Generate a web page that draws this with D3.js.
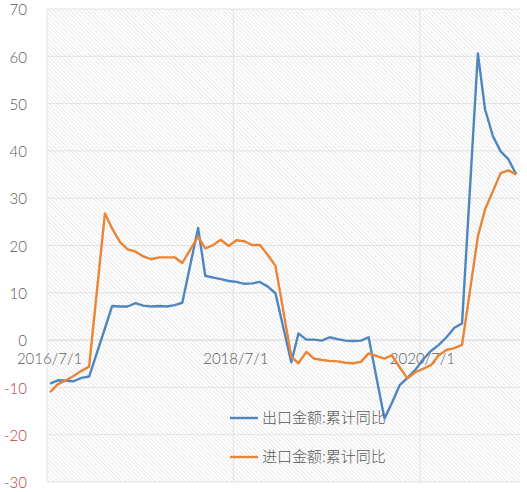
<!DOCTYPE html>
<html lang="zh">
<head>
<meta charset="UTF-8">
<title>出口金额与进口金额累计同比</title>
<script src="https://cdn.jsdelivr.net/npm/d3@7.9.0/dist/d3.min.js"></script>
<style>
  html, body { margin: 0; padding: 0; background: #fff; }
  svg { display: block; font-family: "Noto Sans CJK SC", "Noto Sans", sans-serif; }
  .num { font-family: Lato, "Noto Sans", sans-serif; font-weight: 300; }
</style>
</head>
<body>
<svg id="chart" width="527" height="492"></svg>
<script>
// monthly cumulative YoY (%), January folded into Jan-Feb
const months = [
  "2016-07","2016-08","2016-09","2016-10","2016-11","2016-12",
  "2017-02","2017-03","2017-04","2017-05","2017-06","2017-07","2017-08","2017-09","2017-10","2017-11","2017-12",
  "2018-02","2018-03","2018-04","2018-05","2018-06","2018-07","2018-08","2018-09","2018-10","2018-11","2018-12",
  "2019-02","2019-03","2019-04","2019-05","2019-06","2019-07","2019-08","2019-09","2019-10","2019-11","2019-12",
  "2020-02","2020-03","2020-04","2020-05","2020-06","2020-07","2020-08","2020-09","2020-10","2020-11","2020-12",
  "2021-02","2021-03","2021-04","2021-05","2021-06","2021-07"
];
const exportYoY = [
  -9.2, -8.5, -8.6, -8.7, -8.0, -7.7,
  2.5, 7.2, 7.1, 7.1, 7.8, 7.3, 7.1, 7.2, 7.1, 7.4, 7.9,
  23.7, 13.6, 13.2, 12.9, 12.5, 12.3, 11.9, 12.0, 12.3, 11.3, 9.9,
  -4.7, 1.4, 0.1, 0.1, -0.1, 0.6, 0.2, -0.1, -0.2, -0.1, 0.6,
  -16.6, -13.3, -9.5, -8.0, -6.3, -4.1, -2.3, -1.0, 0.6, 2.6, 3.5,
  60.6, 48.8, 43.1, 39.9, 38.2, 35.0
];
const importYoY = [
  -11.0, -9.3, -8.5, -7.6, -6.5, -5.6,
  26.8, 23.6, 20.7, 19.2, 18.7, 17.7, 17.1, 17.5, 17.5, 17.5, 16.3,
  21.9, 19.4, 20.1, 21.2, 19.9, 21.1, 20.9, 20.1, 20.1, 18.0, 15.7,
  -3.5, -4.9, -2.5, -3.9, -4.2, -4.4, -4.5, -4.8, -4.9, -4.6, -2.8,
  -3.9, -3.2, -5.8, -8.1, -6.8, -6.1, -5.3, -3.2, -2.1, -1.7, -1.0,
  21.9, 27.6, 31.5, 35.3, 35.9, 35.0
];
const yTicks = [-30, -20, -10, 0, 10, 20, 30, 40, 50, 60, 70];
const xTickLabels = ["2016/7/1", "2018/7/1", "2020/7/1"];
const seriesNames = ["出口金额:累计同比", "进口金额:累计同比"];

const svg = d3.select("#chart");
const plot = { left: 47, right: 520, top: 9, bottom: 482 };

const parseMonth = d3.timeParse("%Y-%m-%d");
const parseTick = d3.timeParse("%Y/%m/%d");
const dates = months.map(m => parseMonth(m + "-13"));

const x = d3.scaleTime()
  .domain([parseTick("2016/7/1"), parseTick("2021/7/28")])
  .range([plot.left, plot.right]);
const y = d3.scaleLinear().domain([-30, 70]).range([plot.bottom, plot.top]);

// hatched plot background (fine "\" stripes)
const defs = svg.append("defs");
const pat = defs.append("pattern")
  .attr("id", "hatch")
  .attr("patternUnits", "userSpaceOnUse")
  .attr("width", 3).attr("height", 3)
  .attr("patternTransform", "rotate(-45)");
pat.append("line")
  .attr("x1", 0).attr("y1", 0).attr("x2", 0).attr("y2", 3)
  .attr("stroke", "#dedede").attr("stroke-width", 1.3);

svg.append("rect")
  .attr("x", plot.left).attr("y", plot.top)
  .attr("width", plot.right - plot.left).attr("height", plot.bottom - plot.top)
  .attr("fill", "url(#hatch)");

// horizontal grid
svg.append("g")
  .selectAll("line")
  .data(yTicks)
  .join("line")
  .attr("x1", plot.left).attr("x2", plot.right)
  .attr("y1", d => y(d)).attr("y2", d => y(d))
  .attr("stroke", d => d === 0 ? "#d4d4d4" : "#e2e2e2")
  .attr("stroke-width", 1);

// vertical grid
const xTickDates = xTickLabels.map(parseTick);
svg.append("g")
  .selectAll("line")
  .data(xTickDates)
  .join("line")
  .attr("x1", d => x(d)).attr("x2", d => x(d))
  .attr("y1", plot.top).attr("y2", plot.bottom)
  .attr("stroke", "#e2e2e2");

// y labels
svg.append("g")
  .selectAll("text")
  .data(yTicks)
  .join("text")
  .attr("class", "num")
  .attr("x", 27)
  .attr("y", d => y(d) + 1)
  .attr("dy", "0.35em")
  .attr("text-anchor", "end")
  .attr("font-size", 15)
  .attr("fill", d => d < 0 ? "#b83c3c" : "#595959")
  .text(d => d);

// x labels sit just under the zero line
svg.append("g")
  .selectAll("text")
  .data(xTickDates)
  .join("text")
  .attr("class", "num")
  .attr("x", d => x(d) + 2.5)
  .attr("y", y(0) + 19)
  .attr("dy", "0.35em")
  .attr("text-anchor", "middle")
  .attr("font-size", 15)
  .attr("fill", "#595959")
  .text((d, i) => xTickLabels[i]);

// series
const colors = ["#4f86bf", "#ea8437"];
const line = d3.line()
  .x((d, i) => x(dates[i]))
  .y(d => y(d));

[exportYoY, importYoY].forEach((vals, i) => {
  svg.append("path")
    .datum(vals)
    .attr("d", line)
    .attr("fill", "none")
    .attr("stroke", colors[i])
    .attr("stroke-width", 2.4)
    .attr("stroke-linejoin", "round");
});

// legend
const legend = svg.append("g");
seriesNames.forEach((name, i) => {
  const ly = 418 + i * 39;
  legend.append("line")
    .attr("x1", 230).attr("x2", 258)
    .attr("y1", ly).attr("y2", ly)
    .attr("stroke", colors[i])
    .attr("stroke-width", 2.4);
  legend.append("text")
    .attr("x", 262).attr("y", ly)
    .attr("dy", "0.35em")
    .attr("font-size", 15)
    .attr("font-weight", 300)
    .attr("fill", "#595959")
    .text(name);
});
</script>
</body>
</html>
